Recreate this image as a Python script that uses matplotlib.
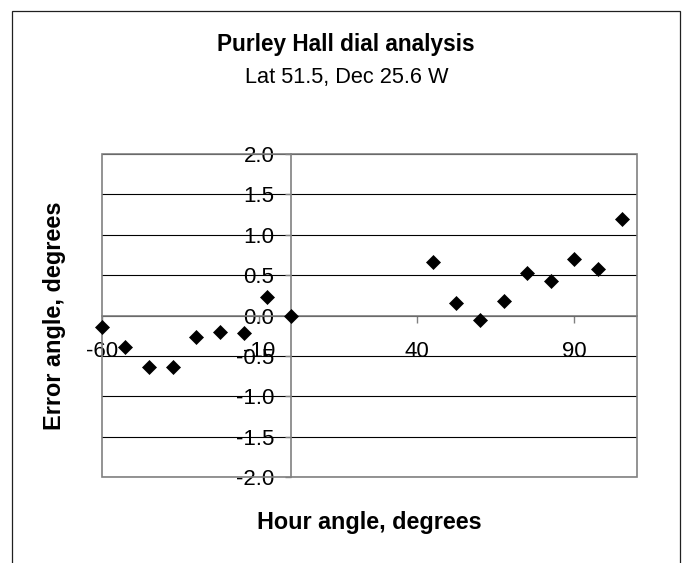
import matplotlib
matplotlib.use("Agg")
import matplotlib.pyplot as plt
from matplotlib.patches import Rectangle
from matplotlib.ticker import FixedLocator, FormatStrFormatter

plt.rcParams['font.family'] = ['Liberation Sans', 'DejaVu Sans']

# hour angle (deg) and error angle (deg)
hour_angle = [-60, -52.5, -45, -37.5, -30, -22.5, -15, -7.5, 0,
              45, 52.5, 60, 67.5, 75, 82.5, 90, 97.5, 105]
error_angle = [-0.14, -0.39, -0.63, -0.63, -0.26, -0.20, -0.22, 0.23, 0.00,
               0.66, 0.16, -0.06, 0.18, 0.53, 0.43, 0.70, 0.58, 1.20]

x_ticks = [-60, -10, 40, 90]
y_ticks = [-2.0, -1.5, -1.0, -0.5, 0.0, 0.5, 1.0, 1.5, 2.0]

title = "Purley Hall dial analysis"
subtitle = "Lat 51.5, Dec 25.6 W"
x_label = "Hour angle, degrees"
y_label = "Error angle, degrees"

W, H = 687, 563
fig = plt.figure(figsize=(W / 100, H / 100), dpi=100)

# chart area border (runs off the bottom of the picture)
fig.patches.append(Rectangle((12 / W, -0.05), (680 - 12) / W, 1 - 11 / H + 0.05,
                             transform=fig.transFigure, fill=False,
                             ec='#202020', lw=0.9))

ax = fig.add_axes([101.7 / W, 1 - 477.3 / H, (637.5 - 101.7) / W, (477.3 - 154) / H])
ax.set_xlim(-60, 110)
ax.set_ylim(-2, 2)

for s in ['top', 'right']:
    ax.spines[s].set_visible(False)
ax.spines['left'].set_position(('data', 0))
ax.spines['bottom'].set_position(('data', 0))
ax.spines['left'].set_color('#808080')
ax.spines['bottom'].set_color('#808080')
ax.spines['left'].set_linewidth(1.2)
ax.spines['bottom'].set_linewidth(1.2)

# plot area border
ax.add_patch(Rectangle((0, 0), 1, 1, transform=ax.transAxes, fill=False,
                       ec='#808080', lw=1.2, zorder=2.6, clip_on=False))

ax.xaxis.set_major_locator(FixedLocator(x_ticks))
ax.xaxis.set_major_formatter(FormatStrFormatter('%d'))
ax.yaxis.set_major_locator(FixedLocator(y_ticks))
ax.yaxis.set_major_formatter(FormatStrFormatter('%.1f'))

ax.tick_params(axis='x', direction='out', length=5, width=1, color='#808080',
               labelsize=16, pad=13)
ax.tick_params(axis='y', direction='out', length=4.3, width=1, color='#808080',
               labelsize=16, pad=7.5)

ax.yaxis.grid(True, color='black', lw=0.8)
ax.set_axisbelow(True)

ax.plot(hour_angle, error_angle, linestyle='none', marker='D', ms=7.6,
        color='black', mew=0.5, zorder=4, clip_on=False)

fig.text(346 / W, 1 - 50.7 / H, title, ha='center', va='baseline',
         fontsize=16.3, fontweight='bold')
fig.text(347 / W, 1 - 83.3 / H, subtitle, ha='center', va='baseline',
         fontsize=15.7)
fig.text(369.5 / W, 1 - 529.3 / H, x_label, ha='center', va='baseline',
         fontsize=16.8, fontweight='bold')
fig.text(54 / W, 1 - 315.5 / H, y_label, ha='center', va='center',
         rotation=90, fontsize=16.9, fontweight='bold')

fig.savefig('out.png', dpi=100)
